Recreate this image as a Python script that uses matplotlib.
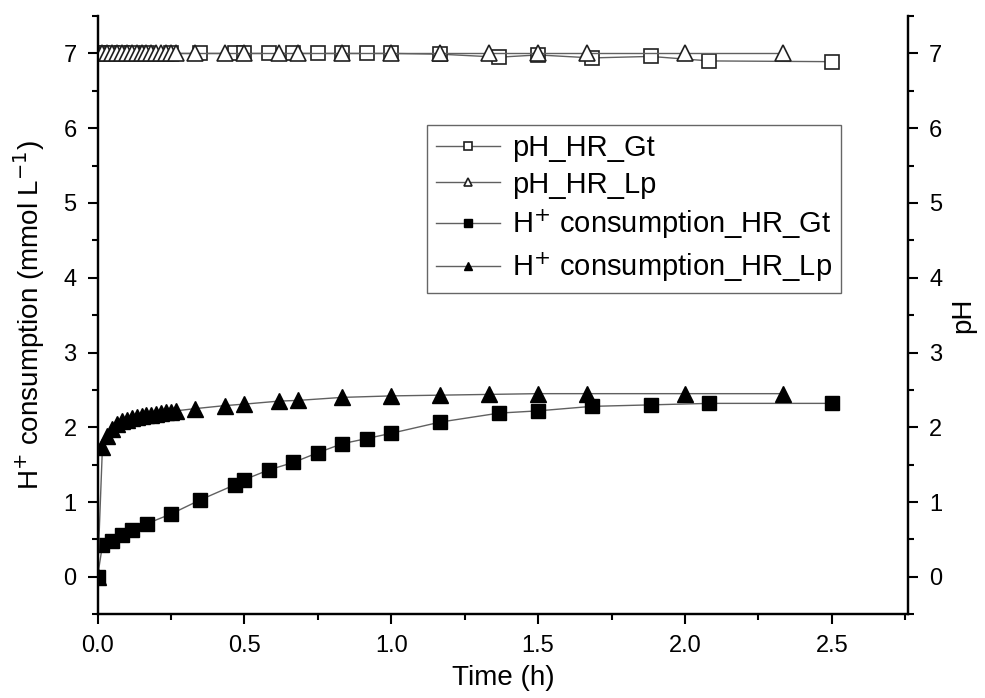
import numpy as np
import matplotlib
matplotlib.use('Agg')
import matplotlib.pyplot as plt
from matplotlib.ticker import MultipleLocator

plt.rcParams['font.family'] = ['Liberation Sans', 'DejaVu Sans']

# Gt series (hours)
t_gt = [0, 0.0167, 0.05, 0.083, 0.117, 0.167, 0.25, 0.35, 0.467, 0.5, 0.583,
        0.667, 0.75, 0.833, 0.917, 1.0, 1.167, 1.367, 1.5, 1.683, 1.883, 2.083, 2.5]
h_gt = [0, 0.42, 0.48, 0.56, 0.62, 0.71, 0.84, 1.03, 1.23, 1.30, 1.43,
        1.53, 1.66, 1.78, 1.85, 1.92, 2.07, 2.19, 2.22, 2.28, 2.30, 2.32, 2.32]
ph_gt = [7.0, 7.0, 7.0, 7.0, 7.0, 7.0, 7.0, 7.0, 7.0, 7.0, 7.0,
         7.0, 7.0, 7.0, 7.0, 7.0, 6.99, 6.95, 6.98, 6.94, 6.96, 6.90, 6.89]

# Lp series (hours)
t_lp = [0, 0.0167, 0.0333, 0.05, 0.0667, 0.0833, 0.1, 0.1167, 0.1333, 0.15,
        0.1667, 0.1833, 0.2, 0.2167, 0.2333, 0.25, 0.2667,
        0.333, 0.433, 0.5, 0.617, 0.683, 0.833, 1.0, 1.167, 1.333, 1.5, 1.667, 2.0, 2.333]
h_lp = [0, 1.73, 1.88, 1.98, 2.04, 2.08, 2.10, 2.12, 2.14, 2.15,
        2.16, 2.17, 2.18, 2.19, 2.20, 2.21, 2.22,
        2.25, 2.29, 2.31, 2.35, 2.36, 2.40, 2.42, 2.43, 2.44, 2.45, 2.45, 2.45, 2.45]
ph_lp = [7.0] * 17 + [7.0, 7.0, 7.0, 7.0, 7.0, 7.0, 7.0, 7.0, 7.0, 7.0, 7.0, 7.0, 7.0]

fig = plt.figure(figsize=(9.85, 6.98), dpi=100)
ax = fig.add_axes([0.099, 0.12, 0.823, 0.857])
ax2 = ax.twinx()

lc = '#606060'
l1, = ax2.plot(t_gt, ph_gt, color=lc, lw=1, marker='s', ms=9.5, mfc='white',
               mec='#202020', mew=1.2, label='pH_HR_Gt')
l2, = ax2.plot(t_lp, ph_lp, color=lc, lw=1, marker='^', ms=11, mfc='white',
               mec='#202020', mew=1.2, label='pH_HR_Lp')
l3, = ax.plot(t_gt, h_gt, color=lc, lw=1, marker='s', ms=9.5, mfc='black',
              mec='black', label='H$^{+}$ consumption_HR_Gt')
l4, = ax.plot(t_lp, h_lp, color=lc, lw=1, marker='^', ms=11, mfc='black',
              mec='black', label='H$^{+}$ consumption_HR_Lp')

for a in (ax, ax2):
    a.set_xlim(0, 2.76)
    a.set_ylim(-0.5, 7.5)
    a.yaxis.set_major_locator(MultipleLocator(1))
    a.yaxis.set_minor_locator(MultipleLocator(0.5))
    a.tick_params(which='major', direction='out', length=7, width=1.5,
                  labelsize=17, pad=8)
    a.tick_params(which='minor', direction='out', length=4, width=1.5)
    a.spines['top'].set_visible(False)
    for s in ('left', 'right', 'bottom'):
        a.spines[s].set_linewidth(1.6)

ax.xaxis.set_major_locator(MultipleLocator(0.5))
ax.xaxis.set_minor_locator(MultipleLocator(0.25))
ax.xaxis.set_major_formatter(matplotlib.ticker.FormatStrFormatter('%.1f'))

ax.set_xlabel('Time (h)', fontsize=20, labelpad=6)
ax.set_ylabel('H$^{+}$ consumption (mmol L$^{-1}$)', fontsize=20, labelpad=12)
ax2.set_ylabel('pH', fontsize=20, rotation=90, labelpad=6)

leg = ax2.legend(handles=[l1, l2, l3, l4], loc='upper left',
                 bbox_to_anchor=(0.389, 0.842), fontsize=21, frameon=True,
                 fancybox=False, edgecolor='#404040', markerscale=0.55,
                 handlelength=2.2, labelspacing=0.3, borderpad=0.3,
                 handletextpad=0.4)
leg.get_frame().set_linewidth(1.0)

fig.savefig('out.png', dpi=100)
